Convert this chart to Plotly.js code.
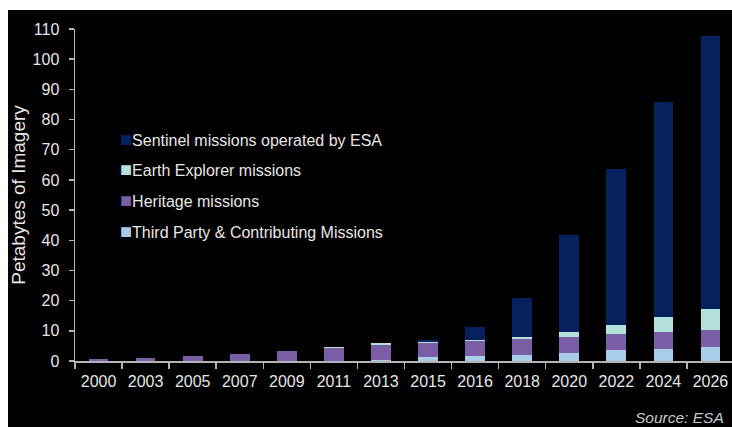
<!DOCTYPE html>
<html>
<head>
<meta charset="utf-8">
<script src="https://cdn.plot.ly/plotly-3.0.1.min.js"></script>
<style>
  html, body { margin: 0; padding: 0; background: #ffffff; width: 732px; height: 427px; overflow: hidden; }
  #chart { position: absolute; left: 8px; top: 10px; width: 728px; height: 417px; }
</style>
</head>
<body>
<div id="chart"></div>
<script>
const years = ["2000","2003","2005","2007","2009","2011","2013","2015","2016","2018","2020","2022","2024","2026"];
const thirdParty = [0, 0, 0, 0, 0, 0, 0.3, 1.2, 1.5, 2.0, 2.7, 3.6, 3.9, 4.7];
const heritage   = [0.7, 1.1, 1.6, 2.4, 3.4, 4.4, 5.1, 4.7, 5.1, 5.4, 5.3, 5.4, 5.7, 5.5];
const earthExplorer = [0, 0, 0, 0, 0, 0.3, 0.4, 0.5, 0.5, 0.5, 1.6, 3.0, 5.0, 7.1];
const sentinel   = [0, 0, 0, 0, 0, 0, 0, 0.7, 4.1, 12.9, 32.2, 51.5, 71.3, 90.5];
const seriesNames = ["Third Party & Contributing Missions", "Heritage missions", "Earth Explorer missions", "Sentinel missions operated by ESA"];
const seriesColors = ["#a8cde8", "#7a5ea6", "#b4e1dc", "#06215e"];
const yTicks = [0,10,20,30,40,50,60,70,80,90,100,110];

const seriesValues = [thirdParty, heritage, earthExplorer, sentinel];
const traces = seriesValues.map((vals, i) => ({
  type: "bar",
  x: years,
  y: vals,
  name: seriesNames[i],
  marker: { color: seriesColors[i], line: { width: 0 } },
  width: 0.42,
  hoverinfo: "x+y+name"
}));

// legend drawn as annotations (top entry = Sentinel)
const legendOrder = [3, 2, 1, 0];
const legendAnn = legendOrder.map((idx, k) => ({
  xref: "paper", yref: "paper",
  x: (110 - 67) / 659, xanchor: "left",
  y: 1 - (128.5 + 30.8 * k - 19) / 332, yanchor: "middle",
  text: "<span style='color:" + seriesColors[idx] + ";font-size:20px'>■</span>" + seriesNames[idx],
  showarrow: false,
  font: { family: "Liberation Sans, Arial, sans-serif", size: 16, color: "#e6e6e6" }
}));

const layout = {
  width: 728, height: 417,
  paper_bgcolor: "#000000",
  plot_bgcolor: "#000000",
  margin: { l: 67, r: 2, t: 19, b: 66 },
  barmode: "stack",
  showlegend: false,
  font: { family: "Liberation Sans, Arial, sans-serif", color: "#e6e6e6" },
  xaxis: {
    type: "category",
    categoryarray: years,
    showgrid: false,
    zeroline: false,
    showline: true,
    linecolor: "#b4b4b4",
    linewidth: 1.5,
    ticks: "outside",
    tickson: "boundaries",
    ticklen: 6,
    tickwidth: 1.5,
    tickcolor: "#b4b4b4",
    ticklabelstandoff: 5,
    tickfont: { size: 16, color: "#e6e6e6" }
  },
  yaxis: {
    range: [0, 110],
    tickvals: yTicks,
    ticktext: yTicks.map(String),
    showgrid: false,
    zeroline: false,
    showline: true,
    linecolor: "#b4b4b4",
    linewidth: 1.5,
    ticks: "outside",
    ticklen: 5,
    tickwidth: 1.5,
    tickcolor: "#b4b4b4",
    ticklabelstandoff: 6,
    tickfont: { size: 16, color: "#e6e6e6" },
    title: { text: "Petabytes of Imagery", font: { size: 19, color: "#e6e6e6" }, standoff: 2 }
  },
  annotations: legendAnn.concat([{
    xref: "paper", yref: "paper",
    x: (717 - 67) / 659, xanchor: "right",
    y: 1 - (407 - 19) / 332, yanchor: "middle",
    text: "<i>Source: ESA</i>",
    showarrow: false,
    borderpad: 0,
    font: { size: 15.5, color: "#c8c8c8" }
  }])
};

Plotly.newPlot("chart", traces, layout, { displayModeBar: false, staticPlot: true });
</script>
</body>
</html>
